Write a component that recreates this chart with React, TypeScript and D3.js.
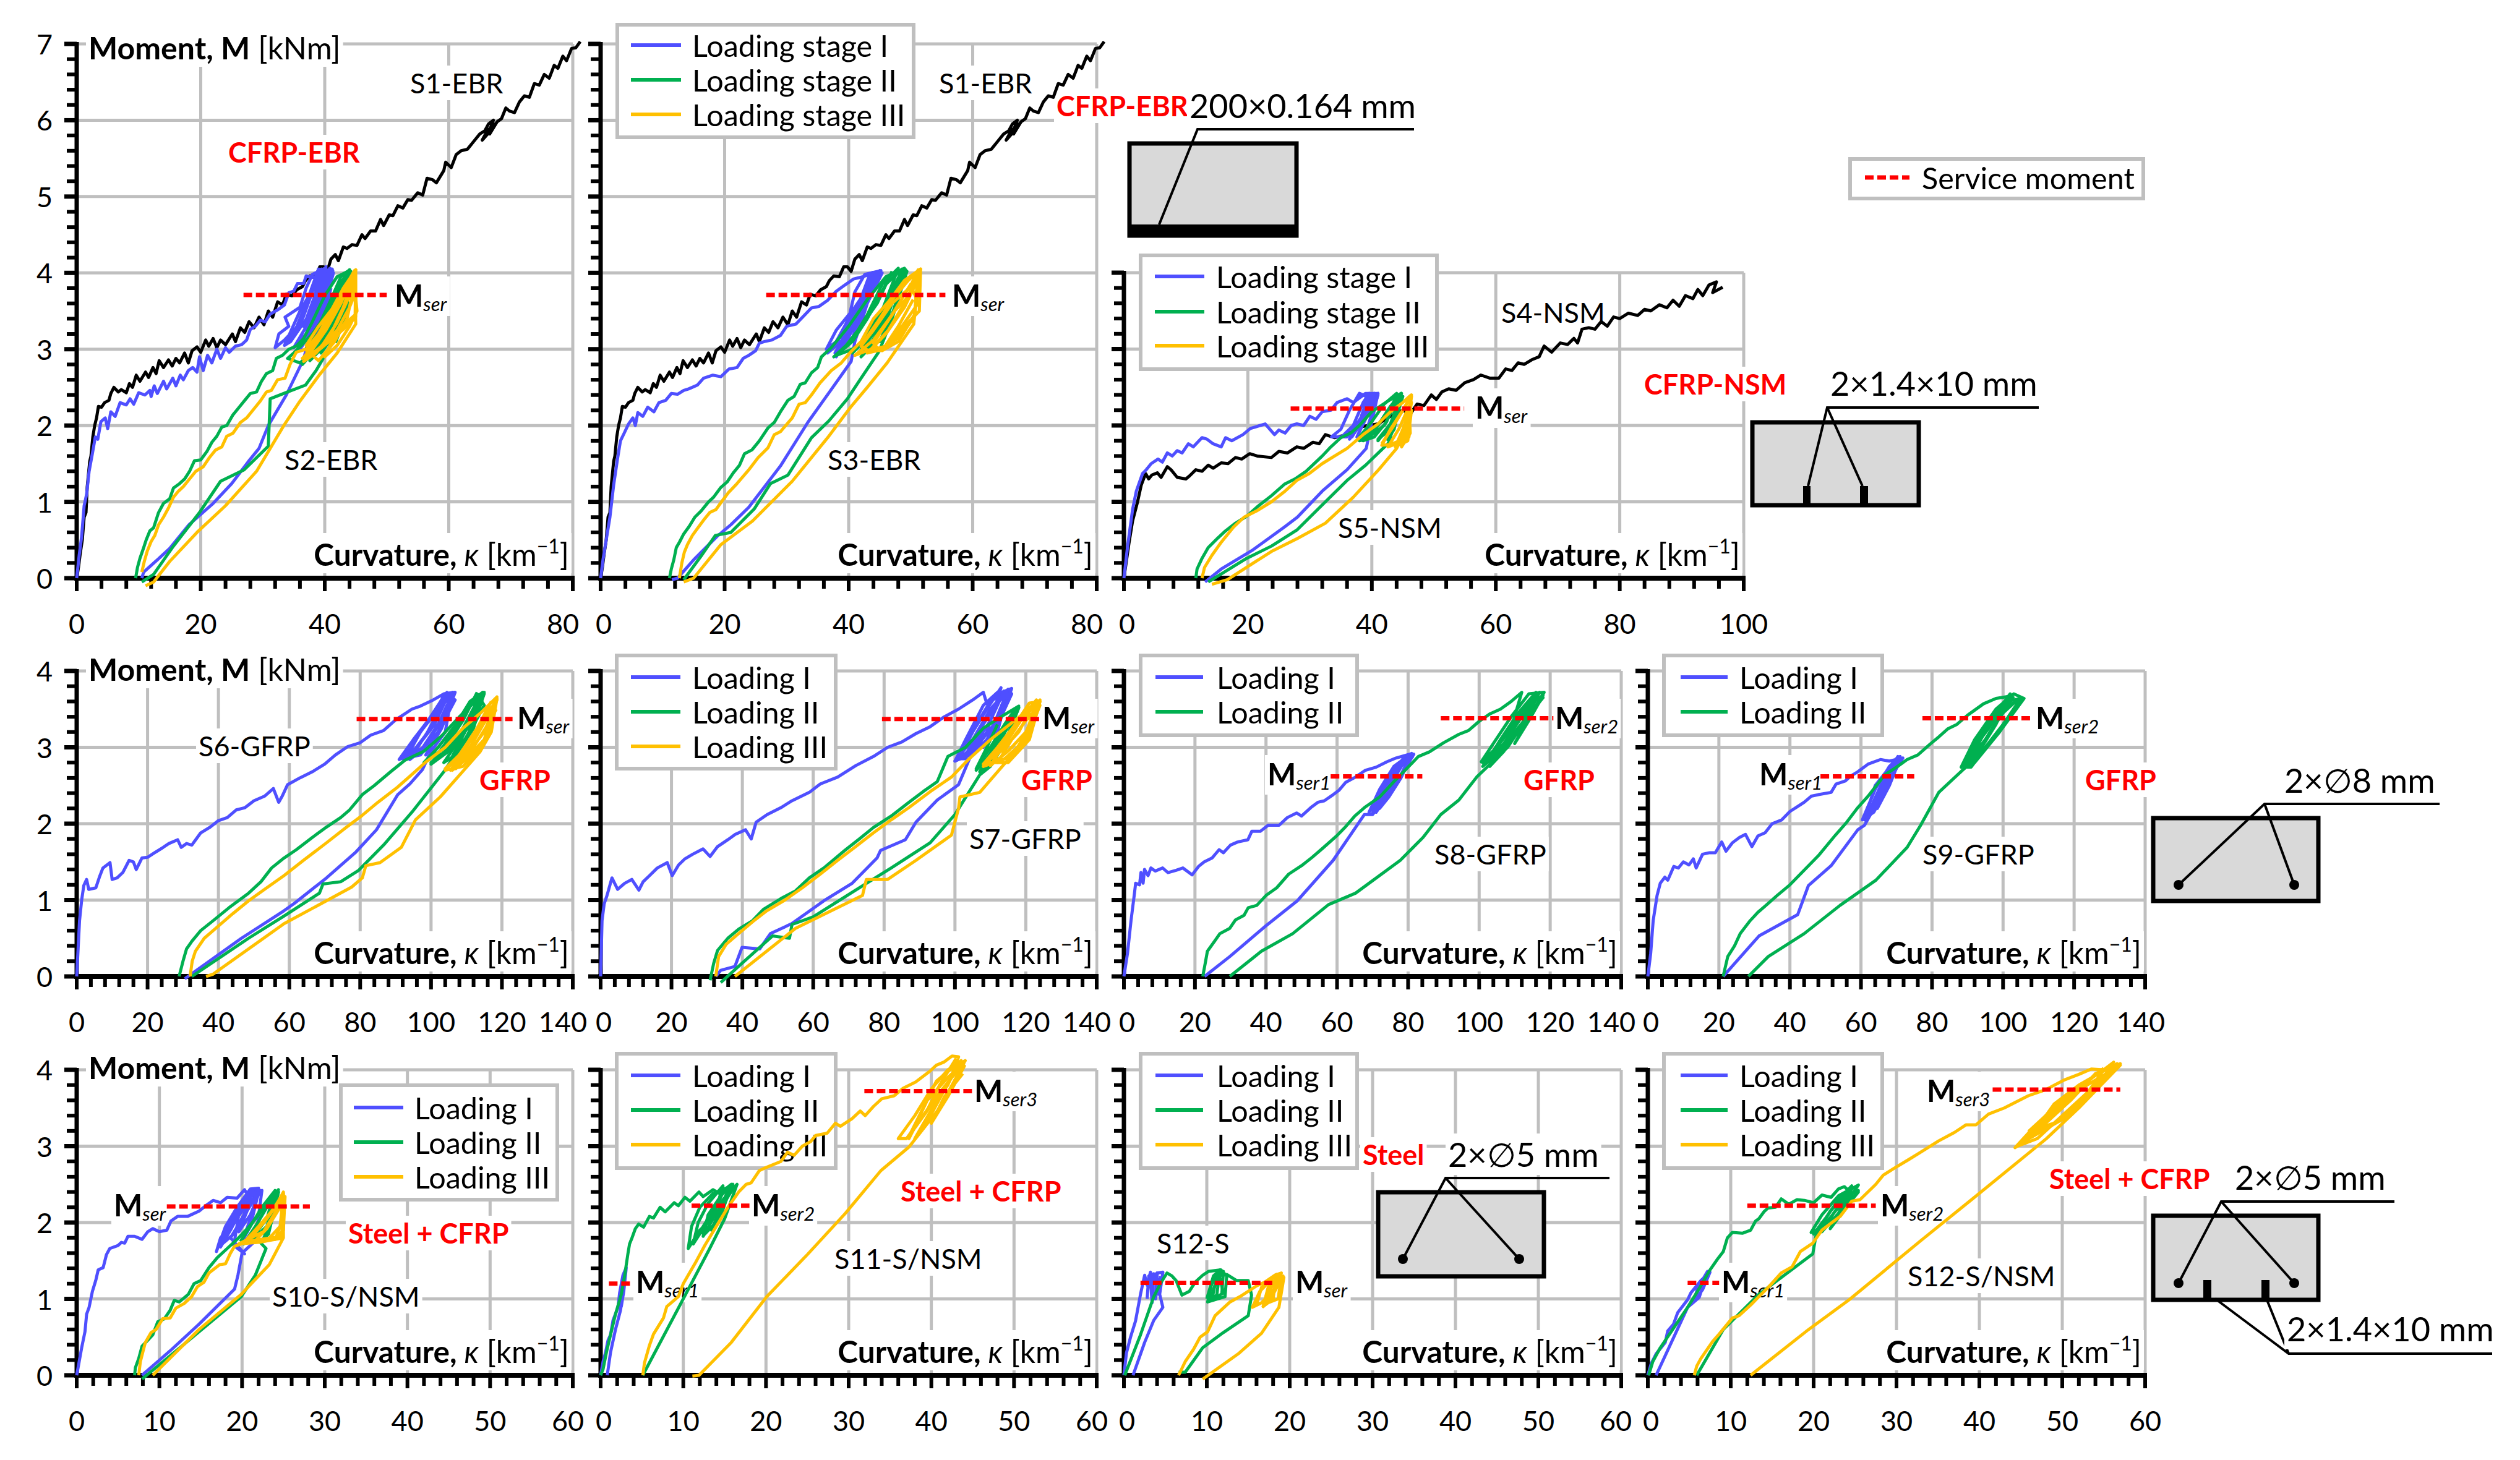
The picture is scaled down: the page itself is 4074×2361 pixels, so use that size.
import { useEffect, useRef } from "react";
import * as d3 from "d3";

type Pt = [number, number];

const BLUE = "#4F4FFF";
const GREEN = "#00B050";
const AMBER = "#FFC000";
const GRID = "#BFBFBF";
const RED = "#FF0000";
const FONT = "Lato, 'Open Sans', sans-serif";

// row 1: S1 reference, S2, S3, S4 reference, S5
const s1Ebr: Pt[] = [[0,0],[.3,.15],[.6,.34],[.9,.5],[1.2,.8],[1.5,.86],[1.7,1.2],[2.1,1.53],[2.3,1.6],[2.6,1.85],[2.9,2],[3.2,2.1],[3.5,2.25],[4,2.24],[4.5,2.3],[5.2,2.33],[5.5,2.42],[6,2.5],[6.7,2.44],[7.2,2.47],[8,2.43],[8.5,2.55],[9,2.5],[9.6,2.66],[10.2,2.58],[11.1,2.7],[11.6,2.63],[12.3,2.76],[12.8,2.68],[13.3,2.85],[14,2.76],[14.8,2.86],[15.4,2.78],[16,2.88],[16.6,2.82],[17.4,2.95],[18,2.82],[18.6,2.98],[19.4,3.03],[20,2.96],[20.8,3.12],[21.3,3.04],[22,3.14],[22.6,3.02],[23.2,3.12],[24,3.06],[25.1,3.2],[25.6,3.1],[26.4,3.28],[27.1,3.22],[27.8,3.36],[28.6,3.28],[29.4,3.42],[30.2,3.32],[30.9,3.5],[31.6,3.42],[32.4,3.62],[33.2,3.58],[33.8,3.72],[34.7,3.7],[35.5,3.78],[36.4,3.82],[36.9,3.9],[37.6,3.96],[38.5,3.95],[39.2,4.08],[39.8,4.08],[40.4,4.02],[41,4.18],[41.7,4.24],[42.2,4.16],[43,4.34],[43.6,4.32],[44.4,4.37],[45.2,4.36],[46,4.5],[46.5,4.45],[47.4,4.55],[48.2,4.55],[49,4.7],[49.5,4.62],[50.4,4.76],[51,4.75],[51.8,4.88],[52.6,4.85],[53.4,4.96],[54,4.95],[55,5.05],[55.8,5.02],[56.5,5.24],[57.4,5.22],[58,5.18],[59.2,5.34],[59.5,5.45],[60.4,5.38],[61.2,5.55],[62,5.6],[63,5.62],[64,5.72],[65,5.82],[65.8,5.86],[66.4,5.95],[67.2,6],[66.4,5.83],[65.4,5.74],[66.2,5.86],[67.6,5.96],[66.6,5.82],[67.8,5.98],[68.5,6.02],[69.2,6.16],[69.8,6.12],[70.6,6.1],[71.4,6.24],[72.2,6.32],[73,6.3],[73.8,6.48],[74.6,6.46],[75.4,6.6],[76.2,6.55],[77,6.72],[77.6,6.68],[78.4,6.84],[79,6.78],[79.8,6.94],[80.5,6.95],[81.2,7.03]];

const s2I: Pt[] = [[0,0],[.4,.3],[.8,.55],[1.2,.95],[1.6,1.1],[2,1.4],[2.5,1.62],[3,1.85],[3.4,1.82],[3.9,2.05],[4.6,2.1],[5,1.96],[5.5,2.18],[6.2,2.12],[7,2.3],[8,2.27],[8.6,2.35],[9.2,2.28],[10,2.43],[11,2.4],[11.8,2.46],[12,2.38],[12.5,2.52],[13,2.42],[14,2.58],[14.5,2.48],[15.5,2.62],[16,2.52],[16.7,2.66],[17.2,2.6],[18,2.72],[18.7,2.76],[19.4,2.7],[19.8,2.9],[20.4,2.72],[21.1,2.92],[21.8,2.82],[22.6,3],[23.2,2.88],[24,3.02],[24.6,2.96],[25.6,3.04],[26.6,3.06],[27.4,3.12],[28,3.26],[28.8,3.3],[29.6,3.38],[30.4,3.36],[31.2,3.46],[32.5,3.52],[33.5,3.58],[34.2,3.74],[35,3.76],[35.6,3.86],[36.6,3.86],[37,3.96],[38,3.94],[39,3.96],[41,4.05],[38.4,3.65],[37.4,3.4],[35,3.25],[33.5,3.12],[32,3.02],[32.6,3.2],[34.2,3.3],[33.6,3.42],[36,3.55],[37,3.8],[38,3.98],[40,4.06],[38,3.5],[36.2,3.3],[34.5,3.1],[33.5,3.05],[36,3.5],[37.8,3.75],[39,4.05],[41.3,4.03],[38.5,3.5],[36,3],[38,3.25],[39,3.55],[41,4.05],[39.4,3.7],[37.6,3.2],[36.6,2.87],[33.8,2.4],[30.9,2],[29.4,1.7],[27.7,1.53],[25,1.24],[22,.98],[18.1,.7],[15,.39],[13,.24],[10.8,.08],[10.5,0]];
const s2Ic: Pt[] = [[39,4.05],[37,3.6],[35.5,3.3],[34,3.1],[36,3.3],[38,3.75],[39.5,4.05],[37.6,3.45],[36.6,3.3],[38.4,3.7],[40.2,4.08],[38.6,3.55],[37,3.2],[35,3.02],[37.4,3.35],[39,3.72],[40.8,4.06],[39,3.6],[37.6,3.25],[36.4,3.05],[38.6,3.45],[40,3.8],[41.2,4.05],[39.6,3.6],[38,3.2],[37,3],[39,3.35],[40.4,3.7],[41.4,4],[39.4,3.4],[37.8,3],[39.8,3.4],[41,3.8]];
const s2II: Pt[] = [[9.5,0],[9.8,.14],[10.2,.26],[10.8,.4],[11.2,.5],[11.8,.62],[12.4,.66],[13.2,.86],[14,.98],[15,1.04],[15.6,1.18],[16.6,1.24],[17.4,1.3],[18.2,1.4],[19,1.54],[20,1.55],[21,1.66],[21.8,1.78],[22.6,1.86],[23.4,1.98],[24.2,2],[25.2,2.14],[26,2.22],[27,2.32],[28,2.42],[29,2.44],[29.8,2.58],[30.6,2.68],[31.6,2.72],[32.2,2.88],[33.2,2.92],[34.2,3],[35.4,3.04],[36.6,3.14],[38,3.36],[40,3.7],[42,3.95],[44,4.03],[41,3.55],[38,3.2],[35,2.95],[34,2.88],[36,2.82],[38,2.96],[40,3.42],[42.4,3.85],[44,4.04],[42,3.4],[40.4,3.1],[38.6,3],[41,3.3],[43,3.7],[43.8,3.6],[42.4,3.3],[40.4,2.97],[38.6,2.72],[36.9,2.53],[34,2.44],[31.2,2.35],[30.9,1.73],[27,1.42],[23.2,1.27],[19.8,.86],[15.6,.42],[12.4,.05],[10.5,-.05]];
const s2IIc: Pt[] = [[37,3],[39,3.3],[41,3.65],[42.6,3.95],[44,4.04],[42,3.55],[40,3.2],[38,2.95],[36.4,2.8],[39,3.1],[41,3.45],[43,3.85],[41.6,3.4],[39.6,3.05],[37.6,2.85],[40,3.05],[42,3.4],[43.4,3.8],[44.2,4.02],[42.6,3.45],[41,3.15],[39.4,2.95],[41.6,3.2],[43,3.55],[44,3.9],[43.2,3.4],[41.8,3.1],[43.6,3.6]];
const s2III: Pt[] = [[10.5,.08],[10.9,.22],[11.4,.36],[12,.48],[12.6,.56],[13.2,.7],[14,.8],[14.8,.92],[15.6,1.06],[16.4,1.14],[17.2,1.2],[18.2,1.3],[19.2,1.4],[20.4,1.46],[21.4,1.58],[22.4,1.68],[23.4,1.72],[24.2,1.86],[25.2,1.9],[26.4,2.04],[27.4,2.1],[28.4,2.2],[29.6,2.32],[30.6,2.44],[31.4,2.46],[32.4,2.6],[33.6,2.62],[34.4,2.8],[35.4,2.96],[37,3],[39,3.2],[41,3.5],[43,3.8],[45,4.04],[44.9,3.45],[42,3.25],[39,3],[36.4,2.88],[38.4,3.05],[40,3.35],[42,3.55],[45,4.02],[45,3.42],[43,3.26],[40.4,3.08],[38,2.92],[37,3.05],[39,3.3],[41.4,3.55],[44.8,4.03],[45,3.33],[42,2.95],[39.1,2.66],[36,2.32],[33.4,2],[29,1.4],[24,.95],[19.4,.6],[15,.22],[12.4,-.05],[11.1,-.1]];
const s2IIIc: Pt[] = [[37,2.95],[39,3.15],[41,3.45],[43,3.75],[45,4.04],[43,3.55],[41,3.2],[38.6,2.95],[36.6,2.84],[39.6,3.05],[42,3.35],[44,3.7],[44.9,3.9],[43.6,3.4],[41.6,3.1],[39,2.85],[37.6,2.95],[40.2,3.25],[42.6,3.6],[44.6,4],[45.2,3.5],[44,3.3],[42,3.05],[40,2.9],[42,3.25],[44,3.55],[45,3.75]];

const s3I: Pt[] = [[0,0],[.4,.25],[.9,.5],[1.5,.8],[2.1,1.22],[2.7,1.55],[3.2,1.8],[3.8,1.9],[4.5,2.02],[5.2,2.1],[5.6,2],[6,2.17],[6.8,2.12],[7.6,2.24],[8.6,2.18],[9.4,2.3],[10.5,2.33],[11.4,2.42],[12.4,2.41],[13.4,2.46],[14.2,2.48],[15.6,2.53],[16.6,2.62],[18.1,2.66],[19.4,2.64],[20.7,2.74],[22,2.76],[23,2.88],[23.9,2.92],[25,2.98],[25.6,3.08],[26.4,3.1],[27.6,3.12],[29,3.18],[30,3.3],[31.5,3.33],[32.8,3.44],[34,3.54],[35.2,3.56],[36.6,3.64],[38,3.76],[39.2,3.83],[40.8,3.92],[42.3,3.95],[44.9,4.02],[41,3.55],[38,3.25],[36.4,3],[38,3.1],[40,3.4],[41,3.75],[42.6,3.98],[45.2,4.03],[42,3.5],[39.6,3.2],[37.8,2.95],[40,3.15],[42.2,3.6],[44,4],[45.4,4],[43,3.6],[41,3.1],[40.4,2.84],[37,2.45],[33.4,2.04],[29,1.47],[23.9,.93],[21,.7],[18.8,.55],[15,.24],[12.4,0],[11.5,-.02]];
const s3Ic: Pt[] = [[44,4.02],[41.6,3.6],[39.6,3.3],[37.6,3.05],[40,3.3],[42,3.65],[43.4,3.98],[41,3.45],[38.8,3.1],[36.6,2.95],[39.4,3.15],[41.4,3.5],[43,3.85],[45,4.03],[42.6,3.55],[40.2,3.2],[38,2.9],[40.6,3.25],[42.6,3.6],[44.4,4],[42.4,3.45],[40.6,3.15],[42.4,3.5],[44.8,3.95]];
const s3II: Pt[] = [[11.1,0],[11.4,.12],[11.8,.24],[12.2,.4],[12.7,.47],[13.4,.58],[14.3,.68],[15.2,.8],[16.2,.88],[17.4,1],[18.2,1.06],[19.4,1.19],[20.4,1.26],[21.4,1.38],[22.4,1.48],[23.2,1.63],[24.4,1.68],[25.6,1.8],[27,1.97],[28,2.04],[29,2.18],[30.2,2.33],[31.2,2.38],[32.2,2.54],[33,2.56],[34,2.69],[35,2.76],[35.6,2.9],[37.2,3.02],[40,3.3],[43,3.65],[46,3.95],[49,4.06],[46,3.5],[43,3.1],[40,2.98],[38,2.92],[40.6,3.1],[43,3.4],[46,3.85],[48.6,4.05],[46.4,3.45],[44,3.12],[42,3],[45,3.3],[47,3.72],[49.4,4.02],[47,3.4],[44.9,2.97],[42,2.62],[39.8,2.35],[36.8,2.06],[34,1.84],[30.2,1.35],[27.4,1.24],[24.8,.91],[21,.6],[18.5,.56],[16.2,.29],[13.4,-.02]];
const s3IIc: Pt[] = [[47,4.02],[44.6,3.6],[42,3.3],[39.6,3.05],[37.6,2.9],[40.4,3.1],[43,3.45],[45.4,3.85],[48,4.06],[45.6,3.55],[43,3.2],[40.6,2.95],[43.6,3.2],[46,3.6],[48.4,4],[46,3.4],[43.8,3.05],[42,2.9],[44.6,3.2],[47,3.6],[49.2,4.04],[47.2,3.5],[45,3.1],[47.6,3.55]];
const s3III: Pt[] = [[12.7,0],[13.1,.2],[13.5,.34],[14,.44],[14.8,.56],[15.6,.65],[16.6,.76],[17.6,.86],[18.6,.9],[19.4,.99],[20.6,1.12],[22,1.24],[23.9,1.42],[25.4,1.58],[27,1.71],[28,1.88],[29,1.92],[30.9,2.1],[32,2.28],[33,2.3],[34,2.4],[35.4,2.56],[37.2,2.72],[38.8,2.82],[40.4,2.97],[42,3.1],[44,3.4],[46.4,3.62],[49,3.9],[51.6,4.05],[51.4,3.5],[49,3.3],[46.4,3.05],[43.2,2.98],[42,3.04],[44,3.25],[47,3.6],[49.8,3.8],[51.2,4.04],[50.6,3.42],[48,3.15],[45,2.98],[44,3.08],[47.4,3.5],[50,3.72],[51.4,4],[50.5,3.33],[46.2,2.82],[43,2.5],[40.4,2.25],[36.6,1.84],[30.9,1.27],[24.5,.75],[19.4,.44],[15,0],[13.4,-.05]];
const s3IIIc: Pt[] = [[42,3.05],[44.6,3.35],[47,3.65],[49.6,3.9],[51.6,4.05],[49,3.6],[46.4,3.25],[43.6,3],[41,2.92],[44,3.12],[47,3.45],[50,3.85],[51.2,3.6],[48.6,3.3],[45.6,3],[43,2.95],[46,3.2],[49,3.55],[51.4,3.95],[50.6,3.45],[48,3.1],[45.4,2.98],[48,3.3],[50.4,3.65]];

const s4Nsm: Pt[] = [[0,0],[.8,.45],[1.4,.75],[2.2,1],[2.8,1.22],[3.5,1.37],[4,1.3],[4.5,1.35],[5.4,1.38],[6,1.32],[7,1.46],[7.6,1.42],[8.6,1.32],[10,1.3],[10.6,1.34],[11.6,1.42],[12.6,1.4],[13.6,1.48],[14.4,1.44],[15.7,1.51],[16.8,1.5],[18,1.58],[19,1.56],[20.3,1.63],[21.5,1.6],[23.8,1.58],[25,1.66],[26.4,1.64],[27.9,1.72],[29,1.7],[30.5,1.78],[31.5,1.76],[32.5,1.88],[34,1.84],[36,1.88],[38,1.98],[41,2.02],[43,2.12],[45,2.2],[46.2,2.15],[47.3,2.28],[48.4,2.26],[49.6,2.4],[50.4,2.34],[51.3,2.44],[52.4,2.48],[53.6,2.46],[55,2.56],[56.4,2.6],[57.6,2.66],[59,2.62],[60.5,2.62],[61.6,2.74],[62.6,2.72],[63.6,2.82],[64.6,2.8],[65.8,2.86],[67,2.9],[67.8,3.04],[69,2.96],[70.4,3.08],[71.6,3.06],[72.6,3.14],[73.2,3.08],[73.9,3.26],[75,3.28],[76,3.26],[77,3.36],[78,3.3],[79,3.42],[80,3.4],[81.4,3.47],[82.9,3.44],[84,3.52],[85,3.5],[86.4,3.58],[87.6,3.54],[88.6,3.64],[89.6,3.56],[90.6,3.7],[91.8,3.66],[92.6,3.78],[93.4,3.7],[94.4,3.84],[95.6,3.88],[95,3.74],[96.6,3.81]];
const s5I: Pt[] = [[0,0],[.6,.42],[1.4,.9],[2,1.14],[3,1.37],[3.6,1.42],[4.4,1.5],[5.5,1.56],[6.2,1.52],[7,1.64],[7.8,1.6],[8.6,1.67],[9.4,1.64],[10.4,1.76],[11.2,1.72],[12.6,1.84],[13.4,1.82],[14.4,1.76],[15.7,1.72],[16.4,1.84],[17.4,1.8],[19.2,1.88],[20.4,1.96],[22,2],[22.8,2.02],[24.3,1.88],[25,1.94],[26,1.9],[27,2],[27.9,2.02],[29,2],[30,2.12],[31,2.08],[32,2.18],[33.4,2.2],[34.4,2.3],[36,2.35],[37,2.3],[39,2.42],[41,2.42],[38,2],[36,1.85],[33.5,1.85],[35,1.95],[36.4,2.2],[38,2.42],[39.6,2.36],[41,2.42],[38.6,2.05],[36.4,1.82],[38,2],[39.4,2.3],[41,2.42],[40,2.05],[39.1,1.7],[36,1.42],[32,1.14],[28,.8],[25.9,.67],[20.8,.37],[15.7,.12],[13.1,-.05]];
const s5Ic: Pt[] = [[40,2.42],[38.4,2.12],[36.6,1.9],[35,1.84],[37,2],[38.6,2.3],[39.6,2.42],[38,2.05],[36.8,1.85],[38.6,2.1],[40.4,2.42],[39,2.1],[37.6,1.85],[39.4,2.15],[41,2.4],[39.6,2.05],[38.6,1.8],[40.2,2.15]];
const s5II: Pt[] = [[11.6,0],[11.8,.12],[12.6,.26],[13.6,.4],[15.2,.53],[16.4,.62],[18,.72],[19.8,.81],[21.6,.94],[23.8,1.08],[25.9,1.23],[27.6,1.3],[29.4,1.4],[32,1.6],[33.4,1.72],[35,1.84],[36.6,1.9],[38,2],[40,2.18],[42.6,2.32],[44.7,2.42],[42,2],[39,1.82],[38,1.8],[40.6,1.95],[42.6,2.2],[44.4,2.4],[43,1.95],[41,1.82],[43,2.02],[45,2.38],[42.7,1.77],[39,1.48],[36,1.28],[32,.96],[27.9,.63],[23.8,.42],[19.8,.26],[13.6,-.05]];
const s5IIc: Pt[] = [[38,1.85],[40,2.05],[42,2.28],[44,2.42],[42.4,2.05],[40.4,1.85],[38.6,1.8],[41,2],[43,2.25],[44.8,2.42],[43,2.02],[41,1.8],[43.4,2.05],[44.6,2.35],[43.6,1.95],[42.4,1.8]];
const s5III: Pt[] = [[12.6,0],[13,.14],[14.2,.3],[15.6,.46],[17.7,.67],[19.4,.8],[21.4,.88],[23.8,1],[26,1.14],[27.9,1.28],[29.9,1.37],[32,1.5],[34,1.6],[36,1.7],[38.6,1.88],[41,2.02],[43,2.18],[45,2.3],[46.2,2.39],[46,1.85],[43,1.75],[41.6,1.74],[43,1.95],[45,2.2],[46.4,2.38],[45.6,1.85],[43.8,1.72],[45,1.95],[46.4,2.3],[45.7,1.97],[44,1.7],[41.1,1.42],[37,1.06],[32.5,.72],[28,.52],[23.8,.35],[16.7,-.02],[14.2,-.08]];
const s5IIIc: Pt[] = [[41.6,1.76],[43.4,1.98],[45,2.2],[46.4,2.4],[45.6,2],[44,1.76],[42.6,1.72],[44.4,1.96],[46,2.25],[46.2,1.9],[44.8,1.72],[45.6,1.95],[46.4,2.2],[45.8,1.8],[44.4,1.74]];

// row 2: GFRP specimens
const s6I: Pt[] = [[0,0],[.8,.73],[1.4,1],[2,1.19],[2.8,1.27],[3.4,1.14],[5.4,1.16],[6.4,1.3],[7.4,1.42],[9.4,1.49],[10,1.27],[11.4,1.29],[13,1.36],[14.8,1.52],[16,1.5],[16.8,1.4],[18.4,1.55],[20,1.56],[22,1.62],[24.4,1.69],[26,1.74],[28.5,1.79],[29.5,1.69],[31,1.74],[32.5,1.72],[35,1.88],[37.5,1.95],[40,2.04],[42.5,2.08],[45,2.18],[47.5,2.21],[50,2.3],[53,2.36],[55.5,2.46],[57,2.28],[58,2.36],[59.5,2.51],[63,2.6],[66.5,2.68],[70,2.78],[73,2.9],[76.5,3.01],[80,3.06],[83,3.16],[86.6,3.22],[90,3.36],[92,3.42],[94.6,3.5],[97,3.54],[100.6,3.62],[103.6,3.7],[106.6,3.72],[103,3.35],[98,3],[91,2.84],[95,3.1],[100,3.4],[104,3.7],[106.8,3.62],[102,3.2],[97,2.9],[93,2.86],[97,3.2],[102,3.5],[106,3.72],[104,3.2],[100,2.95],[97.6,2.71],[94,2.52],[90.6,2.38],[84.6,1.92],[78.6,1.62],[70.5,1.29],[61.5,.96],[58.5,.86],[46.5,.5],[30.5,-.03]];
const s6Ic: Pt[] = [[105,3.7],[101,3.3],[96,3],[92,2.86],[96,3.15],[101,3.45],[104.5,3.72],[100,3.25],[95,2.95],[92,2.85],[97,3.2],[102,3.55],[106,3.7],[102,3.3],[97,2.95],[94,2.84],[99,3.2],[103,3.55],[106.8,3.72],[103,3.25],[98.5,2.9],[102,3.2],[106,3.6]];
const s6II: Pt[] = [[28.9,0],[30,.2],[31,.36],[32.5,.46],[35,.6],[38.5,.73],[43,.9],[48.5,1.09],[52,1.24],[55,1.42],[58.5,1.55],[62,1.66],[66.5,1.82],[70,1.94],[74.5,2.08],[77,2.18],[80.6,2.38],[84,2.5],[88.6,2.68],[92.6,2.83],[98,2.95],[103,3.15],[108,3.4],[112,3.58],[114.6,3.72],[111,3.3],[106,3],[100,2.8],[104,2.95],[109,3.25],[113,3.6],[115,3.72],[112,3.25],[107,2.9],[103.6,2.8],[108,3.1],[112,3.45],[114,3.68],[110,3.1],[106,2.85],[103.6,2.68],[94.6,2.15],[86.6,1.72],[79.6,1.39],[74.5,1.24],[69.5,1.21],[68.5,1.09],[58.5,.79],[48.5,.5],[32.5,0]];
const s6IIc: Pt[] = [[113,3.72],[109,3.35],[104,3],[98,2.8],[102,3],[107,3.3],[111,3.6],[114.6,3.72],[110,3.3],[105,2.95],[100,2.78],[104,3.05],[109,3.4],[113,3.7],[115,3.55],[111,3.2],[106,2.88],[109,3.15],[113,3.5],[115,3.7],[112,3.3],[108,2.98]];
const s6III: Pt[] = [[32,0],[32.6,.2],[33.5,.33],[36,.5],[38.5,.6],[44,.82],[48.5,.99],[53,1.14],[58.5,1.32],[64,1.52],[70.5,1.75],[76,1.95],[80.6,2.11],[85,2.28],[90.6,2.48],[95,2.66],[98.6,2.81],[104,3],[109,3.25],[114,3.45],[118.6,3.66],[115,3.05],[109,2.75],[104,2.7],[108,2.9],[113,3.2],[117,3.5],[118.4,3.62],[115,3.1],[110,2.85],[106,2.7],[111,3],[116,3.4],[118.6,3.64],[117,3.2],[113.8,2.94],[102.6,2.35],[95.6,2.05],[91.6,1.69],[85.6,1.49],[81.6,1.45],[80.6,1.29],[77.6,1.17],[58.5,.69],[38.5,.03],[36.5,0]];
const s6IIIc: Pt[] = [[117,3.6],[113,3.25],[108,2.9],[104,2.72],[108,2.85],[112,3.15],[116,3.45],[118.6,3.62],[115,3.2],[110,2.9],[105.5,2.7],[110,3],[114,3.3],[118,3.55],[116,3.15],[112,2.95],[107,2.72],[112,3],[116,3.3],[118.4,3.5]];

const s7I: Pt[] = [[0,0],[.4,.73],[1,.95],[1.8,1.06],[3.2,1.29],[4.8,1.14],[6.8,1.22],[8.8,1.27],[10.8,1.13],[12,1.24],[13.8,1.32],[16,1.42],[18.8,1.49],[20.2,1.32],[22,1.46],[23.8,1.54],[26,1.6],[28.9,1.67],[30.9,1.57],[33,1.7],[35.9,1.79],[38,1.86],[40.9,1.92],[42.5,1.8],[43.9,2.02],[47,2.12],[50.9,2.21],[54,2.3],[58.9,2.41],[62,2.52],[66.9,2.61],[72,2.76],[77,2.88],[81,3],[85,3.07],[89,3.18],[93,3.27],[97,3.4],[101,3.5],[105,3.62],[108,3.72],[109,3.57],[112,3.7],[116,3.77],[112,3.25],[106,2.95],[100,2.82],[103,3.1],[108,3.55],[112,3.72],[116,3.7],[111,3.2],[104,2.85],[101,2.85],[106,3.3],[110,3.6],[115,3.75],[112,3.2],[105,2.95],[101,2.51],[95,2.31],[89,2.02],[86,1.79],[79,1.65],[78,1.55],[71,1.22],[63,.99],[53.9,.69],[47.9,.56],[44.9,.36],[39.9,.38],[37.9,.13],[33.9,.08],[32.5,0]];
const s7Ic: Pt[] = [[114,3.75],[110,3.35],[105,3],[101,2.84],[105,3.2],[109,3.5],[113,3.78],[109,3.2],[104,2.9],[100,2.82],[105,3.1],[110,3.5],[115,3.76],[111,3.3],[106,3],[103,2.9],[108,3.3],[112,3.6],[116,3.7],[112,3.3],[108,3],[111,3.3],[115,3.6]];
const s7II: Pt[] = [[30.9,-.05],[31.9,.17],[33,.34],[35.9,.5],[39,.62],[42.9,.73],[46,.88],[50.9,1.02],[55,1.12],[58.9,1.29],[63,1.42],[68.9,1.65],[73,1.8],[77,1.95],[82,2.1],[87,2.28],[91,2.42],[95,2.55],[98,2.88],[103,3],[108,3.25],[113,3.4],[118,3.54],[113,3.1],[108,2.8],[106,2.7],[110,2.9],[115,3.3],[118,3.52],[114,3.05],[110,2.75],[107,2.64],[100,2.12],[93,1.75],[82,1.42],[74,1.19],[60,.78],[54,.68],[53.3,.5],[48.5,.53],[38.9,.13],[33.9,-.08]];
const s7IIc: Pt[] = [[112,3.3],[109,3],[106,2.72],[110,3],[114,3.3],[117,3.5],[113,3.15],[109,2.85],[107,2.68],[111,2.95],[115,3.3],[118,3.52],[114,3.05],[110,2.8],[108,2.7],[112,3.05],[116,3.4]];
const s7III: Pt[] = [[32.5,0],[33.3,.26],[35.4,.42],[38.9,.56],[43,.72],[46.9,.86],[52,1],[56.9,1.16],[62,1.34],[66.9,1.52],[72,1.7],[77,1.88],[82,2.05],[87,2.21],[93,2.42],[99,2.61],[104,2.85],[110,3.1],[116,3.32],[121,3.5],[124,3.62],[120,3.1],[114,2.85],[108,2.75],[113,3],[119,3.4],[124,3.6],[121,3.1],[115,2.8],[109,2.8],[115,3.1],[120,3.45],[124,3.6],[120,3.05],[115,2.84],[107,2.41],[101.4,2.35],[101,2.2],[99,1.85],[89,1.52],[81,1.27],[75,1.27],[73.9,1.06],[55,.63],[37.9,0]];
const s7IIIc: Pt[] = [[122,3.55],[118,3.2],[113,2.95],[108,2.78],[112,3],[117,3.3],[121,3.58],[124,3.6],[120,3.2],[115,2.95],[110,2.76],[114,3.05],[119,3.4],[123,3.62],[120,3.15],[116,2.9],[112,2.8],[116,3.1],[120,3.35],[124,3.55],[121,3.2],[117,2.95],[121,3.25],[123.6,3.5]];

const s8I: Pt[] = [[0,0],[1,.3],[2,.73],[3,1.1],[3.3,1.22],[4.4,1.2],[4.8,1.36],[5.4,1.22],[5.8,1.4],[6.8,1.32],[7.6,1.42],[8.8,1.38],[10.9,1.42],[12.4,1.36],[14.7,1.39],[16.6,1.42],[19.2,1.33],[21,1.44],[22.6,1.5],[24.8,1.55],[26.8,1.66],[28,1.62],[30,1.72],[32,1.76],[34.9,1.79],[36,1.9],[38.4,1.9],[40.6,1.98],[43.7,1.98],[46,2.08],[48.6,2.14],[50,2.1],[52.6,2.21],[54.6,2.28],[56.4,2.3],[58.9,2.38],[60.6,2.44],[62.4,2.54],[65.2,2.61],[68,2.7],[71,2.74],[74,2.81],[76.6,2.86],[80.4,2.91],[76,2.6],[72,2.3],[69,2.15],[72,2.45],[76,2.75],[81,2.92],[77,2.55],[72,2.22],[70,2.18],[74,2.55],[78.6,2.85],[81.6,2.91],[75,2.4],[70,2.12],[67.7,2.12],[58.9,1.52],[48.8,.99],[39.9,.66],[29.8,.26],[22.7,0]];
const s8Ic: Pt[] = [[78,2.75],[75,2.5],[72,2.25],[70,2.14],[72.6,2.35],[75.6,2.65],[79,2.88],[76,2.55],[73,2.28],[71,2.15],[74,2.45],[77.6,2.78],[81,2.9],[78,2.6],[74.6,2.35],[72,2.2],[75,2.5],[78.4,2.78],[81.4,2.88]];
const s8II: Pt[] = [[22.2,0],[23,.2],[23.5,.33],[25.5,.46],[27,.56],[29.8,.63],[31.4,.74],[33.8,.8],[35,.9],[37.4,.93],[40,1.06],[43,1.16],[46.4,1.34],[50,1.45],[53,1.56],[56,1.68],[60.1,1.85],[62.4,1.96],[65,2.1],[67.7,2.21],[72,2.35],[76,2.55],[82.9,2.88],[86,2.94],[90,3.06],[94.3,3.17],[97,3.22],[100,3.34],[103.1,3.44],[106,3.5],[109,3.6],[112,3.72],[109,3.25],[105,3],[100.6,2.81],[104,3.05],[109,3.4],[114,3.7],[118.3,3.72],[112,3.25],[106,2.95],[101,2.75],[105,3],[111,3.4],[115,3.62],[118,3.65],[110,3.2],[104,2.9],[101,2.8],[104,2.82],[99.3,2.61],[94.3,2.31],[89.2,2.12],[84.2,1.82],[77.8,1.52],[65.2,1.09],[57.6,.94],[47.5,.56],[38.7,.33],[29.8,0]];
const s8IIc: Pt[] = [[116,3.7],[112,3.4],[107,3.05],[102,2.8],[106,3.1],[111,3.45],[116,3.72],[112,3.3],[107,2.95],[103,2.75],[107,3.05],[112,3.45],[117,3.72],[113,3.35],[108,3],[104,2.82],[109,3.2],[114,3.55],[118,3.68],[114,3.35],[110,3.05],[113,3.3],[117,3.6]];

const s9I: Pt[] = [[0,0],[.8,.3],[1.5,.73],[2.6,1.06],[3.5,1.22],[4.8,1.3],[5.6,1.26],[7.3,1.44],[8.6,1.42],[10,1.5],[11.6,1.46],[12.8,1.54],[13.6,1.42],[15.4,1.6],[17.4,1.62],[19,1.62],[20.8,1.76],[22,1.64],[23.8,1.75],[25.8,1.82],[27.5,1.86],[29.3,1.7],[31,1.84],[33,1.88],[35,2],[37.7,2.05],[40,2.16],[42,2.22],[44,2.28],[46,2.36],[48,2.38],[51.6,2.41],[53,2.52],[55.6,2.56],[57,2.62],[59.1,2.68],[62,2.78],[65.5,2.84],[68,2.82],[71.8,2.86],[67,2.5],[62,2.15],[60.4,2.05],[64,2.45],[68,2.75],[71,2.88],[66,2.4],[61,2.05],[64,2.5],[70,2.85],[67,2.48],[61,1.98],[59.1,1.92],[51.6,1.45],[45.2,1.19],[42.2,.81],[31.3,.53],[21.2,0]];
const s9Ic: Pt[] = [[70,2.86],[67,2.55],[64,2.25],[61.4,2.05],[63.6,2.3],[66.6,2.6],[70.4,2.88],[67,2.45],[63.6,2.15],[62,2.1],[65,2.42],[68,2.7],[71,2.85],[68,2.5],[64.6,2.2],[66.8,2.5],[70,2.8]];
const s9II: Pt[] = [[21.2,0],[22,.16],[22.5,.26],[24.4,.4],[26,.56],[28.8,.73],[31,.84],[33,.92],[36.4,1.06],[40,1.2],[44,1.39],[48,1.58],[52.8,1.85],[56,2.02],[59.1,2.21],[62,2.36],[66.7,2.64],[70,2.74],[73,2.84],[76,2.9],[79.4,3.04],[82,3.14],[84.4,3.24],[87,3.3],[90,3.42],[94.5,3.57],[98,3.64],[102,3.67],[96,3.25],[91,2.95],[88.2,2.74],[92,3.1],[98,3.5],[103,3.7],[105.9,3.64],[99,3.2],[92,2.8],[89,2.74],[94,3.2],[100,3.55],[105,3.6],[96,3.05],[91,2.74],[89.5,2.74],[81.9,2.41],[76.8,1.98],[73,1.69],[64.2,1.26],[54.1,.93],[44,.56],[33.9,.26],[28.3,0]];
const s9IIc: Pt[] = [[103,3.67],[99,3.4],[95,3.1],[90,2.8],[93,3.05],[98,3.45],[102,3.7],[98,3.3],[94,3],[89,2.72],[92,2.95],[96,3.3],[101,3.6],[105,3.64],[100,3.3],[95,3],[91,2.76],[95,3.1],[100,3.45],[104,3.62]];

// row 3: steel and hybrid specimens
const s10I: Pt[] = [[0,0],[.3,.18],[.6,.36],[1,.57],[1.2,.8],[1.5,.89],[1.9,1.1],[2.3,1.24],[2.6,1.38],[3.2,1.41],[3.6,1.58],[4,1.66],[5,1.7],[5.4,1.74],[5.8,1.73],[6.2,1.82],[7,1.82],[7.9,1.78],[8.6,1.88],[9.2,1.92],[10,1.88],[10.9,1.9],[11.4,2.02],[12.2,2.08],[13.4,2.08],[14.8,2.15],[15.6,2.22],[16.5,2.29],[17.4,2.26],[18.2,2.33],[19.4,2.32],[20.3,2.43],[21,2.3],[19,2],[17.4,1.8],[16.9,1.62],[18,1.95],[19.4,2.2],[21,2.44],[22,2.45],[20,2.05],[18.6,1.8],[20.3,1.59],[19,1.7],[19.6,2.1],[21,2.4],[22.4,2.42],[21.6,1.76],[20,1.6],[19.5,1.31],[19.1,1.13],[14.8,.67],[11.3,.32],[7.9,0]];
const s10Ic: Pt[] = [[21,2.42],[19.8,2.15],[18.6,1.9],[17.4,1.68],[18.4,1.98],[19.6,2.2],[21.4,2.44],[20.2,2.1],[19,1.85],[17.6,1.72],[19,2.05],[20.4,2.3],[22.2,2.42],[21,2.1],[19.6,1.88],[20.6,2.15],[22,2.4],[21,1.95],[20,1.75],[21.2,2.1]];
const s10II: Pt[] = [[7,0],[7.1,.1],[7.5,.22],[7.9,.38],[8.6,.46],[9.2,.53],[9.8,.7],[10.6,.74],[11.3,.85],[11.8,.98],[12.4,.96],[13.5,1.06],[14.2,1.2],[15,1.24],[16,1.41],[17,1.54],[18.2,1.66],[19.4,1.78],[20.8,1.94],[22,2.1],[23.4,2.3],[24.4,2.43],[23,1.95],[21,1.75],[23,1.9],[24,2.3],[24.4,2.4],[23.2,1.85],[22.2,1.74],[22.9,1.66],[21.6,1.31],[19.9,1.03],[14.8,.57],[7.9,-.05]];
const s10IIc: Pt[] = [[19.8,1.75],[21,1.95],[22.4,2.2],[24,2.42],[23,2.05],[21.6,1.85],[20.2,1.72],[21.8,1.98],[23,2.2],[24.4,2.4],[23.4,1.95],[22.4,1.74],[23.4,2],[24.4,2.3]];
const s10III: Pt[] = [[7.5,0],[7.7,.18],[8.3,.43],[9,.56],[9.6,.6],[10.4,.74],[11.3,.75],[12,.88],[13,.94],[13.9,1.03],[14.6,1.16],[15.4,1.22],[16,1.34],[17.3,1.45],[18,1.46],[18.6,1.6],[19.1,1.69],[20.4,1.74],[21.6,1.87],[23,2.05],[24,2.2],[25,2.4],[25,1.8],[22,1.74],[19.6,1.72],[22.6,1.88],[24.4,2.2],[25,2.38],[24.8,1.82],[21,1.76],[23.5,1.8],[25,1.8],[23.3,1.45],[19.9,1.06],[14.8,.6],[9.2,0]];
const s10IIIc: Pt[] = [[20.4,1.76],[22,1.95],[23.6,2.15],[25,2.38],[24.6,1.95],[23,1.76],[21.4,1.74],[23,1.92],[24.6,2.2],[25.2,2.34],[25,1.9],[24,1.78],[25,2.05]];

const s11I: Pt[] = [[0,0],[.3,.18],[.6,.3],[.9,.46],[1.2,.53],[1.5,.72],[2.1,.89],[2.3,1.08],[2.7,1.31],[3.1,1.41],[2.8,1.1],[2.5,.9],[2.2,.98],[2.7,1.2],[3,1.38],[2.7,1.05],[2.4,.85],[1.8,.6],[1.2,.3],[.8,0]];
const s11II: Pt[] = [[0,0],[.3,.08],[.7,.3],[1.2,.53],[1.8,.8],[2.5,1.06],[2.9,1.3],[3.3,1.59],[3.5,1.72],[3.8,1.8],[4.2,1.92],[4.6,1.98],[5.2,1.94],[5.9,2.08],[6.4,2.06],[7.2,2.2],[7.8,2.14],[8.9,2.26],[9.4,2.22],[10.2,2.33],[10.8,2.28],[11.9,2.4],[12.4,2.34],[13.6,2.43],[14.4,2.38],[15.8,2.5],[14,2.1],[12,1.9],[10.6,1.66],[11,1.95],[12,2.2],[13.6,2.38],[15.8,2.48],[14.4,2.05],[12.6,1.85],[12,1.88],[13.4,2.12],[15.6,2.4],[16.5,2.5],[15,2.05],[13.2,1.66],[9.8,.96],[5.1,0]];
const s11IIc: Pt[] = [[15,2.45],[13.8,2.15],[12.4,1.92],[11.2,1.72],[11.8,2],[13,2.25],[14.8,2.48],[13.6,2.05],[12.4,1.82],[13,2.1],[14.6,2.36],[16,2.5],[14.6,2.15],[13.4,1.9],[14.6,2.2],[16,2.44]];
const s11III: Pt[] = [[5.1,0],[5.3,.16],[5.9,.39],[6.4,.54],[7.6,.75],[8,.9],[9.4,1.03],[10,1.2],[11.5,1.48],[12.6,1.7],[14.1,1.97],[15.4,2.2],[16.7,2.4],[17.6,2.5],[18.2,2.52],[19.2,2.68],[20,2.72],[21.8,2.8],[22.6,2.92],[23.4,2.88],[24.4,3],[25.4,3.06],[26,3.14],[27.4,3.17],[28.4,3.3],[29,3.26],[30.4,3.36],[31.4,3.46],[32,3.4],[33,3.52],[34,3.62],[35.5,3.66],[36.6,3.76],[38.1,3.84],[39.8,3.98],[40.6,4.06],[41.5,4.1],[42.5,4.18],[43.3,4.17],[42,3.8],[39,3.4],[37,3.1],[36,3.1],[38,3.4],[40,3.75],[42,4],[44.1,4.12],[41,3.7],[38,3.25],[37.3,3.1],[39.5,3.6],[42,3.9],[44,4.1],[41,3.5],[37.3,2.99],[33.9,2.68],[29.6,2.12],[25,1.58],[20.1,1.03],[15.8,.43],[11.9,0],[11.1,-.01]];
const s11IIIc: Pt[] = [[43,4.15],[41,3.8],[39.4,3.45],[37.4,3.15],[39,3.5],[40.6,3.85],[43.6,4.12],[41.4,3.7],[39.4,3.3],[38,3.1],[40.4,3.55],[42.4,3.9],[44,4.05],[42,3.65],[40,3.3],[41.6,3.65],[43.8,3.95]];

const s12sI: Pt[] = [[0,0],[.3,.29],[.8,.5],[1.4,.71],[2,1.06],[2.5,1.31],[2.8,1.18],[3.2,1.35],[3.6,1.2],[4.1,1.34],[4.7,1.35],[4.3,1.05],[4,1.2],[4.7,.89],[3.6,.72],[2.5,.43],[1.1,0]];
const s12sIc: Pt[] = [[2.8,1],[3,1.3],[3.6,1.33],[3.4,.95],[3.2,1.25],[4,1.34],[3.8,1],[4.4,1.3]];
const s12sII: Pt[] = [[.1,0],[1,.25],[2,.53],[3.6,1.03],[4.4,1.2],[5.2,1.34],[5.8,1.3],[6.3,1.24],[7,1.05],[7.9,1.1],[8.6,1.22],[9.5,1.31],[10.2,1.36],[11.7,1.38],[12.4,1.3],[12.2,1.03],[10.1,.96],[10.6,1.2],[11.4,1.36],[12,1.08],[10.6,.98],[11.2,1.3],[12.4,1.32],[13.6,1.24],[15,1.24],[15.4,1.05],[15,.78],[12,.56],[9.5,.36],[7.4,.04],[6.6,.04]];
const s12sIIc: Pt[] = [[10,1],[10.8,1.3],[11.6,1.38],[11.2,1.05],[10.4,1],[11.4,1.3],[12,1.36],[11.8,1.05]];
const s12sIII: Pt[] = [[6.6,0],[7.4,.18],[8.4,.34],[9.2,.5],[10.1,.57],[11,.78],[12.8,.96],[14,1.03],[16,1.17],[17,1.22],[18.2,1.31],[19,1.34],[18,1.1],[16.6,.95],[15.5,.89],[16.4,1.1],[18,1.28],[19.2,1.3],[18,1.06],[16.8,.9],[17.4,1.15],[19.3,1.28],[18.7,.89],[16.6,.55],[13.9,.29],[9.5,-.05]];
const s12sIIIc: Pt[] = [[16,.92],[16.6,1.15],[18.4,1.32],[18,1],[16.8,.9],[17.6,1.2],[19,1.3],[18.6,1],[17.4,.95],[18,1.25]];

const s13I: Pt[] = [[0,0],[.4,.15],[1,.28],[2.1,.43],[2.4,.58],[3.1,.67],[3.6,.82],[4.8,.99],[5.2,1.08],[6.4,1.24],[7.5,1.35],[6.6,1.12],[5.6,.98],[6,1.14],[7.2,1.36],[6.2,1.02],[4.8,.89],[1,0]];
const s13II: Pt[] = [[.1,0],[.6,.18],[1.5,.36],[3,.6],[4.8,.89],[6,1.1],[7.5,1.38],[8.4,1.52],[9.1,1.62],[9.6,1.8],[10.2,1.87],[11.4,1.86],[12.4,1.9],[13,2.02],[13.4,2.05],[14,2.14],[14.5,2.19],[15.4,2.2],[16.1,2.31],[17,2.24],[18,2.3],[18.9,2.29],[20,2.26],[21,2.36],[22.1,2.33],[23,2.44],[23.7,2.47],[24.6,2.38],[25.4,2.4],[23.5,2.15],[21.5,1.95],[19.7,1.87],[21,2.1],[23,2.35],[25.4,2.49],[23,2.1],[20.6,1.88],[22,2.15],[24.6,2.44],[22.6,2.02],[20.4,1.9],[19.9,1.59],[13.4,1.06],[9.1,.6],[5.9,0]];
const s13IIc: Pt[] = [[24.6,2.45],[23,2.2],[21.4,1.98],[20,1.85],[21.4,2.05],[23,2.3],[24.6,2.48],[23,2.12],[21,1.88],[22.4,2.12],[24,2.36],[25.4,2.42],[23.6,2.15],[22,1.92],[23.6,2.2]];
const s13III: Pt[] = [[5.6,0],[5.9,.12],[6.4,.22],[7.8,.44],[8.6,.54],[10.2,.75],[11,.78],[12.4,.92],[13.4,1.03],[14.6,1.16],[16.1,1.34],[17.4,1.42],[18.4,1.62],[19.9,1.73],[21,1.9],[23.2,2.08],[24.6,2.28],[25.6,2.3],[27.5,2.5],[28.4,2.62],[29.7,2.71],[31.4,2.82],[32.6,2.9],[35.1,3.07],[37,3.18],[38.4,3.28],[39.6,3.28],[41.1,3.42],[43,3.5],[45.9,3.66],[48,3.74],[50.3,3.87],[52,3.94],[53.5,4.01],[55,4],[56.2,4.1],[54,3.75],[50,3.35],[46,3.1],[44.3,2.98],[47,3.3],[51,3.6],[54,3.95],[57,4.08],[53,3.65],[49,3.3],[46,3.2],[49,3.5],[53,3.8],[57,4.06],[52,3.5],[48.1,3.1],[39.4,2.33],[32.9,1.76],[24.3,.99],[19.4,.6],[14.5,.18],[12.4,0]];
const s13IIIc: Pt[] = [[55,4.02],[52,3.75],[49,3.45],[46,3.15],[45,3.05],[48,3.3],[51,3.6],[53.6,3.9],[56.6,4.08],[53,3.7],[50,3.4],[47,3.1],[44.6,3],[47.6,3.35],[51,3.7],[55,4],[52.4,3.6],[49,3.3],[46.4,3.15],[49,3.55],[52,3.8],[56,4.05]];

// service moment: kappa from, kappa to, moment
const serviceS2 = [[26.9, 50, 3.71]];
const serviceS3 = [[26.7, 55.6, 3.71]];
const serviceS5 = [[26.9, 54.9, 2.22]];
const serviceS6 = [[79, 123, 3.37]];
const serviceS7 = [[79.4, 123.9, 3.37]];
const serviceS8 = [[58.2, 84, 2.62], [89.2, 120.9, 3.38]];
const serviceS9 = [[48.6, 75, 2.62], [77.3, 108.5, 3.38]];
const serviceS10 = [[10.9, 28.2, 2.21]];
const serviceS11 = [[1, 3.8, 1.2], [11, 18, 2.22], [31.9, 45, 3.72]];
const serviceS12s = [[2, 17.9, 1.21]];
const serviceS13 = [[4.8, 8.6, 1.21], [12, 27.5, 2.22], [41.6, 57, 3.74]];

const xTicks80 = [0, 20, 40, 60, 80];
const xTicks100 = [0, 20, 40, 60, 80, 100];
const xTicks140 = [0, 20, 40, 60, 80, 100, 120, 140];
const xTicks60 = [0, 10, 20, 30, 40, 50, 60];
const yTicks7 = [0, 1, 2, 3, 4, 5, 6, 7];
const yTicks4 = [0, 1, 2, 3, 4];
const stageLegend3 = ["Loading stage I", "Loading stage II", "Loading stage III"];
const loadLegend3 = ["Loading I", "Loading II", "Loading III"];
const loadLegend2 = ["Loading I", "Loading II"];
const stageColors = [BLUE, GREEN, AMBER];

const LEFT = [[124, 926], [971, 1773], [1817, 2819], [1817, 2621], [2664, 3468]];

const ROW1 = { y0: 935, y1: 71, titleY: 96 };
const ROW1B = { y0: 935, y1: 441, titleY: 0 };
const ROW2 = { y0: 1579, y1: 1085, titleY: 1101 };
const ROW3 = { y0: 2224, y1: 1730, titleY: 1745 };

type Lg = { box: number[]; sample: number[]; textX: number; rows: number[]; items: string[] };
type Lb = { t: string; x: number; y: number; kind: "name" | "red" | "ser"; sub?: string };

const panels: any[] = [
  { px: LEFT[0], row: ROW1, xt: xTicks80, yt: yTicks7, minor: 4, yLabels: true, lastShift: -16, zeroShift: 0,
    curves: [[s1Ebr, "#000"], [s2I, BLUE], [s2Ic, BLUE], [s2II, GREEN], [s2IIc, GREEN], [s2III, AMBER], [s2IIIc, AMBER]], service: serviceS2,
    labels: [{ t: "S1-EBR", x: 663, y: 151, kind: "name" }, { t: "CFRP-EBR", x: 369, y: 263, kind: "red" }, { t: "S2-EBR", x: 460, y: 760, kind: "name" }, { t: "M", x: 638, y: 496, kind: "ser", sub: "ser" }] },
  { px: LEFT[1], row: ROW1, xt: xTicks80, yt: yTicks7, minor: 4, lastShift: -16, zeroShift: 5,
    curves: [[s1Ebr, "#000"], [s3I, BLUE], [s3Ic, BLUE], [s3II, GREEN], [s3IIc, GREEN], [s3III, AMBER], [s3IIIc, AMBER]], service: serviceS3,
    labels: [{ t: "S1-EBR", x: 1518, y: 151, kind: "name" }, { t: "CFRP-EBR", x: 1708, y: 188, kind: "red" }, { t: "S3-EBR", x: 1338, y: 760, kind: "name" }, { t: "M", x: 1539, y: 496, kind: "ser", sub: "ser" }],
    legend: { box: [998, 40, 1477, 222], sample: [1020, 1101], textX: 1119, rows: [73, 129, 185], items: stageLegend3 } },
  { px: LEFT[2], row: ROW1B, xt: xTicks100, yt: yTicks4, minor: 4, lastShift: 0, zeroShift: 5,
    curves: [[s4Nsm, "#000"], [s5I, BLUE], [s5Ic, BLUE], [s5II, GREEN], [s5IIc, GREEN], [s5III, AMBER], [s5IIIc, AMBER]], service: serviceS5,
    labels: [{ t: "S4-NSM", x: 2427, y: 522, kind: "name" }, { t: "S5-NSM", x: 2163, y: 870, kind: "name" }, { t: "CFRP-NSM", x: 2658, y: 638, kind: "red" }, { t: "M", x: 2385, y: 677, kind: "ser", sub: "ser" }],
    legend: { box: [1844, 413, 2323, 597], sample: [1867, 1947], textX: 1966, rows: [447, 504, 559], items: stageLegend3 } },
  { px: LEFT[0], row: ROW2, xt: xTicks140, yt: yTicks4, minor: 4, yLabels: true, lastShift: -16, zeroShift: 0,
    curves: [[s6I, BLUE], [s6Ic, BLUE], [s6II, GREEN], [s6IIc, GREEN], [s6III, AMBER], [s6IIIc, AMBER]], service: serviceS6,
    labels: [{ t: "S6-GFRP", x: 321, y: 1223, kind: "name" }, { t: "GFRP", x: 775, y: 1278, kind: "red" }, { t: "M", x: 836, y: 1179, kind: "ser", sub: "ser" }] },
  { px: LEFT[1], row: ROW2, xt: xTicks140, yt: yTicks4, minor: 4, lastShift: -16, zeroShift: 5,
    curves: [[s7I, BLUE], [s7Ic, BLUE], [s7II, GREEN], [s7IIc, GREEN], [s7III, AMBER], [s7IIIc, AMBER]], service: serviceS7,
    labels: [{ t: "S7-GFRP", x: 1567, y: 1373, kind: "name" }, { t: "GFRP", x: 1651, y: 1278, kind: "red" }, { t: "M", x: 1685, y: 1179, kind: "ser", sub: "ser" }],
    legend: { box: [997, 1060, 1351, 1243], sample: [1020, 1100], textX: 1119, rows: [1095, 1151, 1207], items: loadLegend3 } },
  { px: LEFT[3], row: ROW2, xt: xTicks140, yt: yTicks4, minor: 4, lastShift: -16, zeroShift: 5,
    curves: [[s8I, BLUE], [s8Ic, BLUE], [s8II, GREEN], [s8IIc, GREEN]], service: serviceS8,
    labels: [{ t: "S8-GFRP", x: 2319, y: 1398, kind: "name" }, { t: "GFRP", x: 2463, y: 1278, kind: "red" }, { t: "M", x: 2049, y: 1270, kind: "ser", sub: "ser1" }, { t: "M", x: 2514, y: 1179, kind: "ser", sub: "ser2" }],
    legend: { box: [1844, 1060, 2194, 1189], sample: [1868, 1945], textX: 1967, rows: [1095, 1151], items: loadLegend2 } },
  { px: LEFT[4], row: ROW2, xt: xTicks140, yt: yTicks4, minor: 4, lastShift: -7, zeroShift: 5,
    curves: [[s9I, BLUE], [s9Ic, BLUE], [s9II, GREEN], [s9IIc, GREEN]], service: serviceS9,
    labels: [{ t: "S9-GFRP", x: 3108, y: 1398, kind: "name" }, { t: "GFRP", x: 3371, y: 1278, kind: "red" }, { t: "M", x: 2844, y: 1270, kind: "ser", sub: "ser1" }, { t: "M", x: 3291, y: 1179, kind: "ser", sub: "ser2" }],
    legend: { box: [2690, 1060, 3043, 1189], sample: [2717, 2793], textX: 2812, rows: [1095, 1151], items: loadLegend2 } },
  { px: LEFT[0], row: ROW3, xt: xTicks60, yt: yTicks4, minor: 2, yLabels: true, lastShift: -8, zeroShift: 0,
    curves: [[s10I, BLUE], [s10Ic, BLUE], [s10II, GREEN], [s10IIc, GREEN], [s10III, AMBER], [s10IIIc, AMBER]], service: serviceS10,
    labels: [{ t: "S10-S/NSM", x: 440, y: 2113, kind: "name" }, { t: "Steel + CFRP", x: 563, y: 2011, kind: "red" }, { t: "M", x: 184, y: 1967, kind: "ser", sub: "ser" }],
    legend: { box: [551, 1755, 901, 1940], sample: [572, 652], textX: 670, rows: [1791, 1847, 1903], items: loadLegend3 } },
  { px: LEFT[1], row: ROW3, xt: xTicks60, yt: yTicks4, minor: 2, lastShift: -8, zeroShift: 5,
    curves: [[s11I, BLUE], [s11II, GREEN], [s11IIc, GREEN], [s11III, AMBER], [s11IIIc, AMBER]], service: serviceS11,
    labels: [{ t: "S11-S/NSM", x: 1349, y: 2052, kind: "name" }, { t: "Steel + CFRP", x: 1456, y: 1943, kind: "red" }, { t: "M", x: 1028, y: 2091, kind: "ser", sub: "ser1" }, { t: "M", x: 1215, y: 1967, kind: "ser", sub: "ser2" }, { t: "M", x: 1575, y: 1782, kind: "ser", sub: "ser3" }],
    legend: { box: [997, 1704, 1351, 1889], sample: [1020, 1100], textX: 1119, rows: [1739, 1795, 1851], items: loadLegend3 } },
  { px: LEFT[3], row: ROW3, xt: xTicks60, yt: yTicks4, minor: 2, lastShift: -9, zeroShift: 5,
    curves: [[s12sI, BLUE], [s12sIc, BLUE], [s12sII, GREEN], [s12sIIc, GREEN], [s12sIII, AMBER], [s12sIIIc, AMBER]], service: serviceS12s,
    labels: [{ t: "S12-S", x: 1870, y: 2027, kind: "name" }, { t: "Steel", x: 2203, y: 1884, kind: "red" }, { t: "M", x: 2094, y: 2091, kind: "ser", sub: "ser" }],
    legend: { box: [1844, 1704, 2194, 1889], sample: [1868, 1945], textX: 1967, rows: [1739, 1795, 1851], items: loadLegend3 } },
  { px: LEFT[4], row: ROW3, xt: xTicks60, yt: yTicks4, minor: 2, lastShift: 0, zeroShift: 5,
    curves: [[s13I, BLUE], [s13II, GREEN], [s13IIc, GREEN], [s13III, AMBER], [s13IIIc, AMBER]], service: serviceS13,
    labels: [{ t: "S12-S/NSM", x: 3084, y: 2080, kind: "name" }, { t: "Steel + CFRP", x: 3313, y: 1923, kind: "red" }, { t: "M", x: 2783, y: 2091, kind: "ser", sub: "ser1" }, { t: "M", x: 3040, y: 1967, kind: "ser", sub: "ser2" }, { t: "M", x: 3115, y: 1782, kind: "ser", sub: "ser3" }],
    legend: { box: [2690, 1704, 3043, 1889], sample: [2717, 2793], textX: 2812, rows: [1739, 1795, 1851], items: loadLegend3 } },
];

const FS = 45;
const FS_AXIS = 49.5;
const FS_LEGEND = 48.5;

function Label({ l }: { l: Lb }) {
  if (l.kind === "ser") {
    return (
      <text className="boxed" x={l.x} y={l.y} fontSize={FS + 4}>
        <tspan fontWeight="700">{l.t}</tspan>
        <tspan fontStyle="italic" fontSize={FS - 14} dy={7}>{l.sub}</tspan>
      </text>
    );
  }
  return (
    <text className="boxed" x={l.x} y={l.y} fontSize={FS} fontWeight={l.kind === "red" ? 700 : 400} fill={l.kind === "red" ? RED : "#000"}>
      {l.t}
    </text>
  );
}

function Legend({ lg }: { lg: Lg }) {
  const [l, t, r, b] = lg.box;
  return (
    <g>
      <rect x={l} y={t} width={r - l} height={b - t} fill="#fff" stroke={GRID} strokeWidth={6} />
      {lg.items.map((s, i) => (
        <g key={s}>
          <line x1={lg.sample[0]} x2={lg.sample[1]} y1={lg.rows[i]} y2={lg.rows[i]} stroke={stageColors[i]} strokeWidth={6} />
          <text x={lg.textX} y={lg.rows[i]} fontSize={FS_LEGEND} dominantBaseline="central">{s}</text>
        </g>
      ))}
    </g>
  );
}

function Panel({ p }: { p: any }) {
  const [x0, x1] = p.px;
  const xMax = p.xt[p.xt.length - 1];
  const yMax = p.yt[p.yt.length - 1];
  const x = d3.scaleLinear().domain([0, xMax]).range([x0, x1]);
  const y = d3.scaleLinear().domain([0, yMax]).range([p.row.y0, p.row.y1]);
  const line = d3.line<Pt>().x((d) => x(d[0])).y((d) => y(d[1]));
  const xMinor = d3.range(0, xMax + 0.01, p.minor);
  const yMinor = d3.range(0, yMax + 0.01, 0.2);
  return (
    <g>
      <g stroke={GRID} strokeWidth={5}>
        {p.xt.slice(1).map((v: number) => <line key={v} x1={x(v)} x2={x(v)} y1={y(0)} y2={y(yMax)} />)}
        {p.yt.slice(1).map((v: number) => <line key={v} x1={x0} x2={x1} y1={y(v)} y2={y(v)} />)}
      </g>
      {p.labels.map((l: Lb, i: number) => <Label key={i} l={l} />)}
      {p.yLabels && (
        <text className="boxed" x={143} y={p.row.titleY} fontSize={FS_AXIS + 0.5}>
          <tspan fontWeight="700">Moment, M</tspan> [kNm]
        </text>
      )}
      <text className="boxed" x={x1 - 6} y={y(0) - 20} fontSize={FS_AXIS} textAnchor="end">
        <tspan fontWeight="700">Curvature, </tspan>
        <tspan fontStyle="italic">κ</tspan> [km
        <tspan fontSize={32} dy={-20}>−1</tspan>
        <tspan dy={20}>]</tspan>
      </text>
      <g stroke="#000">
        <line x1={x0} x2={x0} y1={y(yMax) - 3} y2={y(0) + 3} strokeWidth={7} />
        <line x1={x0 - 4} x2={x1 + 3} y1={y(0)} y2={y(0)} strokeWidth={8} />
        {yMinor.map((v: number) => {
          const major = Math.abs(v - Math.round(v)) < 1e-6;
          return <line key={v} x1={major ? x0 - 20 : x0 - 16} x2={x0} y1={y(v)} y2={y(v)} strokeWidth={major ? 7 : 6} />;
        })}
        {xMinor.map((v: number) => {
          const major = p.xt.includes(v);
          return <line key={v} x1={x(v)} x2={x(v)} y1={y(0)} y2={y(0) + (major ? 21 : 17)} strokeWidth={6} />;
        })}
      </g>
      <g fontSize={FS} textAnchor="middle" dominantBaseline="central">
        {p.xt.map((v: number, i: number) => (
          <text key={v} x={x(v) + (i === 0 ? p.zeroShift : i === p.xt.length - 1 ? p.lastShift : 0)} y={y(0) + 73}>{v}</text>
        ))}
      </g>
      {p.yLabels && (
        <g fontSize={FS} textAnchor="end" dominantBaseline="central">
          {p.yt.map((v: number) => <text key={v} x={85} y={y(v)}>{v}</text>)}
        </g>
      )}
      {p.legend && <Legend lg={p.legend} />}
      <g fill="none" strokeWidth={5} strokeLinejoin="round">
        {p.curves.map((c: any, i: number) => <path key={i} d={line(c[0]) || ""} stroke={c[1]} />)}
      </g>
      <g stroke={RED} strokeWidth={7} strokeDasharray="14 6">
        {p.service.map((s: number[], i: number) => <line key={i} x1={x(s[0])} x2={x(s[1])} y1={y(s[2])} y2={y(s[2])} />)}
      </g>
    </g>
  );
}

function Section({ rect, band, bars, dots, leaders, text }: any) {
  const [l, t, r, b] = rect;
  return (
    <g>
      <rect x={l + 3} y={t + 3} width={r - l - 6} height={b - t - 6} fill="#D9D9D9" stroke="#000" strokeWidth={7} />
      {band && <rect x={l} y={band} width={r - l} height={b - band} fill="#000" />}
      {bars && bars.map((s: number[], i: number) => <rect key={i} x={s[0]} y={s[1]} width={s[2] - s[0]} height={s[3] - s[1]} fill="#000" />)}
      {dots && dots.map((d: number[], i: number) => <circle key={i} cx={d[0]} cy={d[1]} r={8} fill="#000" />)}
      <g fill="none" stroke="#000">
        {leaders.map((d: number[], i: number) => <polyline key={i} points={`${d[0]},${d[1]} ${d[2]},${d[3]} ${d[4] ?? d[2]},${d[5] ?? d[3]}`} strokeWidth={4} />)}
      </g>
      {text.map((s: any, i: number) => <text key={i} className="boxed" x={s[1]} y={s[2]} fontSize={54}>{s[0]}</text>)}
    </g>
  );
}

export default function App() {
  const ref = useRef<SVGSVGElement>(null);

  // white box behind each label, the gridlines stop at it
  useEffect(() => {
    const svg = d3.select(ref.current);
    svg.selectAll("rect.textbg").remove();
    svg.selectAll<SVGTextElement, unknown>("text.boxed").each(function () {
      const b = this.getBBox();
      d3.select(this.parentNode as SVGGElement)
        .insert("rect", () => this)
        .attr("class", "textbg")
        .attr("x", b.x - 4)
        .attr("y", b.y - 1)
        .attr("width", b.width + 8)
        .attr("height", b.height + 2)
        .attr("fill", "#fff");
    });
  }, []);

  return (
    <svg ref={ref} width={4074} height={2361} fontFamily={FONT} style={{ position: "absolute", left: 0, top: 0, background: "#fff" }}>
      {panels.map((p, i) => <Panel key={i} p={p} />)}
      <Section rect={[1823, 229, 2099, 384]} band={363} leaders={[[1874, 363, 1936, 209, 2286, 209]]} text={[["200×0.164 mm", 1923, 191]]} />
      <Section rect={[2830, 680, 3105, 820]} bars={[[2915, 786, 2927, 815], [3007, 786, 3020, 815]]}
        leaders={[[2923, 786, 2954, 659, 3296, 659], [3011, 786, 2954, 659]]} text={[["2×1.4×10 mm", 2959, 640]]} />
      <Section rect={[3478, 1320, 3751, 1460]} dots={[[3522, 1431], [3709, 1431]]}
        leaders={[[3522, 1431, 3661, 1300, 3944, 1300], [3709, 1431, 3661, 1300]]} text={[["2×∅8 mm", 3693, 1282]]} />
      <Section rect={[2225, 1925, 2499, 2067]} dots={[[2268, 2036], [2456, 2036]]}
        leaders={[[2268, 2036, 2337, 1905, 2602, 1905], [2456, 2036, 2337, 1905]]} text={[["2×∅5 mm", 2341, 1887]]} />
      <Section rect={[3478, 1963, 3751, 2105]} dots={[[3522, 2075], [3709, 2075]]}
        bars={[[3562, 2070, 3575, 2100], [3656, 2070, 3669, 2100]]}
        leaders={[[3522, 2075, 3591, 1943, 3871, 1943], [3709, 2075, 3591, 1943], [3581, 2100, 3700, 2189, 4029, 2189], [3664, 2100, 3700, 2189]]}
        text={[["2×∅5 mm", 3613, 1924], ["2×1.4×10 mm", 3697, 2169]]} />
      <g>
        <rect x={2991} y={257} width={474} height={64} fill="#fff" stroke={GRID} strokeWidth={6} />
        <line x1={3015} x2={3087} y1={287} y2={287} stroke={RED} strokeWidth={7} strokeDasharray="14 6" />
        <text x={3107} y={287} fontSize={FS_LEGEND} dominantBaseline="central">Service moment</text>
      </g>
    </svg>
  );
}
